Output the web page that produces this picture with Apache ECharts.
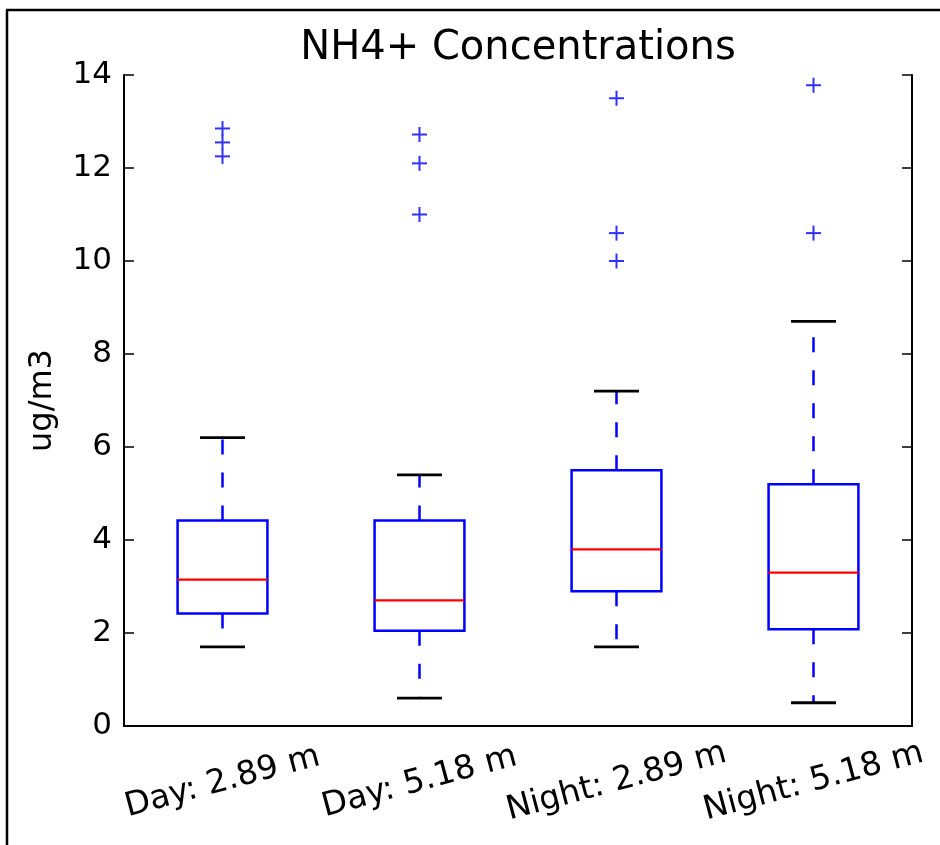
<!DOCTYPE html>
<html>
<head>
<meta charset="utf-8">
<script src="https://cdn.jsdelivr.net/npm/echarts@6/dist/echarts.min.js"></script>
<style>
  html, body { margin: 0; padding: 0; background: #fff; }
  #chart { width: 940px; height: 845px; }
</style>
</head>
<body>
<div id="chart"></div>
<script>
const categories = ['Day: 2.89 m', 'Day: 5.18 m', 'Night: 2.89 m', 'Night: 5.18 m'];
const whiskerLow = [1.7, 0.6, 1.7, 0.5];
const quartile1 = [2.42, 2.05, 2.9, 2.08];
const median = [3.15, 2.7, 3.8, 3.3];
const quartile3 = [4.42, 4.42, 5.5, 5.2];
const whiskerHigh = [6.2, 5.4, 7.2, 8.7];
// [category index, value]
const outliers = [
  [0, 12.85], [0, 12.55], [0, 12.25],
  [1, 12.72], [1, 12.1], [1, 11.0],
  [2, 13.5], [2, 10.6], [2, 10.0],
  [3, 13.78], [3, 10.6]
];
const yTicks = [0, 2, 4, 6, 8, 10, 12, 14];

const FONT = '"DejaVu Sans", sans-serif';
const BLUE = '#0000ff';

const boxData = categories.map((c, i) => [
  i, whiskerLow[i], quartile1[i], median[i], quartile3[i], whiskerHigh[i]
]);

function renderBox(params, api) {
  const i = api.value(0);
  const low = api.coord([i, api.value(1)]);
  const q1 = api.coord([i, api.value(2)]);
  const med = api.coord([i, api.value(3)]);
  const q3 = api.coord([i, api.value(4)]);
  const high = api.coord([i, api.value(5)]);
  const band = api.size([1, 0])[0];
  const half = band * 0.228;
  const capHalf = half / 2;
  const x = q1[0];
  const dash = { stroke: BLUE, lineWidth: 2.5, lineDash: [15, 18] };
  return {
    type: 'group',
    children: [
      { type: 'line', shape: { x1: x, y1: q3[1], x2: x, y2: high[1] }, style: dash },
      { type: 'line', shape: { x1: x, y1: q1[1], x2: x, y2: low[1] }, style: dash },
      {
        type: 'rect',
        shape: { x: x - half, y: q3[1], width: half * 2, height: q1[1] - q3[1] },
        style: { fill: 'none', stroke: BLUE, lineWidth: 2.5 }
      },
      {
        type: 'line',
        shape: { x1: x - half, y1: med[1], x2: x + half, y2: med[1] },
        style: { stroke: '#ff0000', lineWidth: 2.2 }
      },
      {
        type: 'line',
        shape: { x1: x - capHalf, y1: high[1], x2: x + capHalf, y2: high[1] },
        style: { stroke: '#000', lineWidth: 2.8 }
      },
      {
        type: 'line',
        shape: { x1: x - capHalf, y1: low[1], x2: x + capHalf, y2: low[1] },
        style: { stroke: '#000', lineWidth: 2.8 }
      }
    ]
  };
}

function renderFlier(params, api) {
  const p = api.coord([api.value(0), api.value(1)]);
  const r = 7.5;
  const st = { stroke: '#3030ff', lineWidth: 2 };
  return {
    type: 'group',
    children: [
      { type: 'line', shape: { x1: p[0] - r, y1: p[1], x2: p[0] + r, y2: p[1] }, style: st },
      { type: 'line', shape: { x1: p[0], y1: p[1] - r, x2: p[0], y2: p[1] + r }, style: st }
    ]
  };
}

const chart = echarts.init(document.getElementById('chart'), null, { renderer: 'canvas' });

const tickStyle = { color: '#000', width: 1.5 };
const lineStyle = { color: '#000', width: 2 };

const option = {
  animation: false,
  backgroundColor: '#fff',
  title: {
    text: 'NH4+ Concentrations',
    left: 518,
    textAlign: 'center',
    top: 29,
    padding: 0,
    textStyle: { fontFamily: FONT, fontSize: 40, fontWeight: 'normal', color: '#000' }
  },
  graphic: [
    { type: 'line', shape: { x1: 6, y1: 10, x2: 940, y2: 10 }, style: { stroke: '#000', lineWidth: 2.5 } },
    { type: 'line', shape: { x1: 7, y1: 10, x2: 7, y2: 845 }, style: { stroke: '#000', lineWidth: 2.5 } }
  ],
  grid: { left: 124, right: 28, top: 75, bottom: 119 },
  xAxis: [
    {
      type: 'category',
      data: categories,
      position: 'bottom',
      boundaryGap: true,
      axisLine: { lineStyle: lineStyle },
      axisTick: { inside: true, alignWithLabel: true, length: 10, lineStyle: tickStyle },
      axisLabel: {
        rotate: 15,
        align: 'center',
        verticalAlign: 'middle',
        margin: 56,
        interval: 0,
        fontFamily: FONT,
        fontSize: 33,
        color: '#000'
      },
      splitLine: { show: false }
    },
    {
      type: 'category',
      data: categories,
      position: 'top',
      boundaryGap: true,
      axisLine: { lineStyle: lineStyle },
      axisTick: { inside: true, alignWithLabel: true, length: 10, lineStyle: tickStyle },
      axisLabel: { show: false },
      splitLine: { show: false }
    }
  ],
  yAxis: [
    {
      type: 'value',
      min: yTicks[0],
      max: yTicks[yTicks.length - 1],
      interval: 2,
      position: 'left',
      name: 'ug/m3',
      nameLocation: 'middle',
      nameGap: 65,
      nameRotate: 90,
      nameTextStyle: { fontFamily: FONT, fontSize: 32, color: '#000' },
      axisLine: { show: true, lineStyle: lineStyle },
      axisTick: { show: true, inside: true, length: 10, lineStyle: tickStyle },
      axisLabel: { margin: 12, fontFamily: FONT, fontSize: 31, color: '#000' },
      splitLine: { show: false }
    },
    {
      type: 'value',
      min: yTicks[0],
      max: yTicks[yTicks.length - 1],
      interval: 2,
      position: 'right',
      axisLine: { show: true, lineStyle: lineStyle },
      axisTick: { show: true, inside: true, length: 10, lineStyle: tickStyle },
      axisLabel: { show: false },
      splitLine: { show: false }
    }
  ],
  series: [
    {
      type: 'custom',
      name: 'box',
      xAxisIndex: 0,
      yAxisIndex: 0,
      renderItem: renderBox,
      encode: { x: 0, y: [1, 2, 3, 4, 5] },
      data: boxData,
      z: 3
    },
    {
      type: 'custom',
      name: 'outliers',
      xAxisIndex: 0,
      yAxisIndex: 0,
      renderItem: renderFlier,
      encode: { x: 0, y: 1 },
      data: outliers,
      z: 4
    }
  ]
};

chart.setOption(option);
</script>
</body>
</html>
